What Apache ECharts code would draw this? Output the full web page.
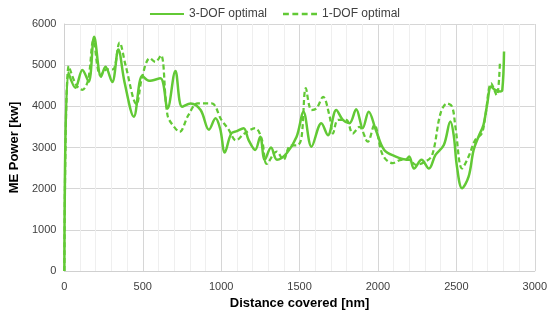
<!DOCTYPE html>
<html>
<head>
<meta charset="utf-8">
<script src="https://cdn.jsdelivr.net/npm/echarts@6/dist/echarts.min.js"></script>
<style>html,body{margin:0;padding:0;background:#fff}#c{width:550px;height:320px}</style>
</head>
<body>
<div id="c"></div>
<script>
const seriesNames = ['3-DOF optimal', '1-DOF optimal'];
const xTicks = [0, 500, 1000, 1500, 2000, 2500, 3000];
const yTicks = [0, 1000, 2000, 3000, 4000, 5000, 6000];
const xAxisTitle = 'Distance covered [nm]';
const yAxisTitle = 'ME Power [kw]';

// [distance nm, power kW]
const dof3 = [[0,0],[25,4820],[70,4450],[115,4880],[155,4600],[190,5690],[234,4720],[262,4960],[305,4590],[344,5380],[384,4580],[443,3750],[497,4740],[540,4620],[612,4680],[658,3950],[708,4860],[751,3990],[806,4070],[869,3910],[922,3430],[964,3710],[994,3450],[1023,2880],[1064,3340],[1100,3400],[1143,3470],[1175,3180],[1217,2940],[1249,3260],[1278,2700],[1318,3000],[1356,2700],[1418,2860],[1481,3260],[1525,3860],[1576,3020],[1639,3590],[1681,3300],[1734,3910],[1776,3670],[1818,3590],[1861,3930],[1903,3470],[1941,3870],[1987,3420],[2040,2940],[2114,2780],[2177,2710],[2199,2780],[2230,2490],[2278,2700],[2325,2490],[2367,2820],[2420,3060],[2462,3630],[2483,3300],[2504,2530],[2536,2010],[2578,2290],[2610,2940],[2641,3260],[2673,3550],[2694,3990],[2722,4480],[2747,4400],[2778,4360],[2793,4400],[2804,5330]];

const dof1 = [[0,0],[28,4980],[75,4520],[115,4400],[152,4650],[185,5600],[230,4750],[270,4900],[310,4900],[352,5550],[390,5000],[460,4050],[495,4700],[545,5170],[580,5080],[616,5240],[658,3780],[700,3500],[735,3380],[790,3780],[850,4070],[940,4070],[1000,3680],[1045,3450],[1095,3170],[1145,3330],[1217,3470],[1259,3200],[1291,2600],[1354,2900],[1397,2700],[1439,3040],[1490,3060],[1513,3260],[1540,4440],[1576,3910],[1608,3950],[1650,4230],[1692,3750],[1713,3340],[1745,3670],[1797,3670],[1839,3340],[1882,3500],[1935,3140],[1977,3550],[2030,2820],[2093,2620],[2150,2700],[2200,2700],[2241,2580],[2300,2650],[2346,2820],[2399,3830],[2441,4070],[2473,3990],[2494,3500],[2536,2490],[2578,2780],[2620,3180],[2662,3340],[2684,3750],[2722,4560],[2757,4270],[2778,5100]];

const green = '#62c935';
const font = '"Liberation Sans", "Open Sans", sans-serif';
const plain = v => String(v);
const chart = echarts.init(document.getElementById('c'), null, {renderer: 'canvas'});
chart.setOption({
  animation: false,
  backgroundColor: '#fff',
  textStyle: {fontFamily: font},
  grid: {left: 61, right: 15, top: 24, bottom: 49, containLabel: false},
  legend: {
    top: 3, left: 'center', itemWidth: 34, itemHeight: 10, itemGap: 16,
    textStyle: {fontSize: 12, color: '#404040', fontFamily: font},
    data: [
      {name: seriesNames[0], icon: 'path://M0,4 L34,4 L34,6 L0,6 Z'},
      {name: seriesNames[1], icon: 'path://M0,4 L5,4 L5,6 L0,6 Z M8,4 L13,4 L13,6 L8,6 Z M16,4 L21,4 L21,6 L16,6 Z M24,4 L29,4 L29,6 L24,6 Z'}
    ]
  },
  xAxis: {
    type: 'value', min: xTicks[0], max: xTicks[xTicks.length-1], interval: 500,
    name: xAxisTitle, nameLocation: 'middle', nameGap: 24,
    nameTextStyle: {fontSize: 13, fontWeight: 'bold', color: '#000', fontFamily: font},
    axisLine: {show: true, lineStyle: {color: '#d0d0d0', width: 1}},
    axisTick: {show: false},
    axisLabel: {fontSize: 11, color: '#404040', margin: 10, formatter: plain},
    splitLine: {show: true, lineStyle: {color: '#d6d6d6', width: 1}},
    minorTick: {show: false, splitNumber: 5},
    minorSplitLine: {show: true, lineStyle: {color: '#efefef', width: 1}}
  },
  yAxis: {
    type: 'value', min: yTicks[0], max: yTicks[yTicks.length-1], interval: 1000,
    name: yAxisTitle, nameLocation: 'middle', nameGap: 42, nameRotate: 90,
    nameTextStyle: {fontSize: 13, fontWeight: 'bold', color: '#000', fontFamily: font},
    axisLine: {show: true, lineStyle: {color: '#d0d0d0', width: 1}},
    axisTick: {show: false},
    axisLabel: {fontSize: 11, color: '#404040', margin: 8, formatter: plain},
    splitLine: {show: true, lineStyle: {color: '#d6d6d6', width: 1}}
  },
  series: [
    {name: seriesNames[0], type: 'line', data: dof3, smooth: 0.35, symbol: 'none',
     lineStyle: {color: green, width: 2.5}, itemStyle: {color: green}, z: 3},
    {name: seriesNames[1], type: 'line', data: dof1, smooth: 0.35, symbol: 'none',
     lineStyle: {color: green, width: 2.25, type: [5, 3]}, itemStyle: {color: green}, z: 2}
  ]
});
</script>
</body>
</html>
